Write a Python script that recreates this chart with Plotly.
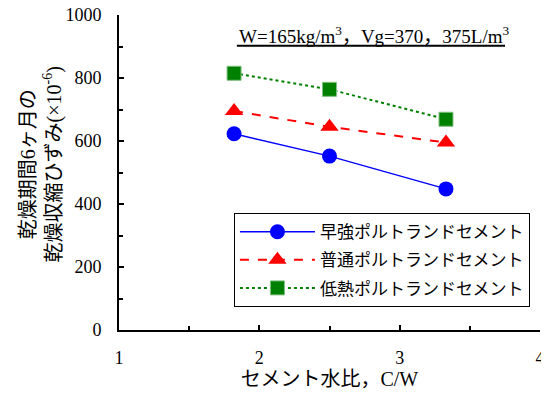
import plotly.graph_objects as go

cw = [1.82, 2.50, 3.33]
early = [623, 552, 448]
normal = [695, 645, 595]
low = [815, 764, 669]
names = ["早強ポルトランドセメント", "普通ポルトランドセメント", "低熱ポルトランドセメント"]

FONT = "Liberation Serif, Noto Sans CJK JP"

fig = go.Figure()
fig.add_trace(go.Scatter(x=cw, y=early, name=names[0], mode="lines+markers", legendgroup="a",
                         line=dict(color="#0000FF", width=1.5),
                         marker=dict(symbol="circle", size=15, color="#0000FF")))
fig.add_trace(go.Scatter(x=cw, y=normal, name=names[1], mode="lines+markers", legendgroup="b",
                         line=dict(color="#FF0000", width=2, dash="dash"),
                         marker=dict(symbol="triangle-up", size=16, color="#FF0000")))
fig.add_trace(go.Scatter(x=cw, y=low, name=names[2], mode="lines+markers", legendgroup="c",
                         line=dict(color="#008000", width=2, dash="dot"),
                         marker=dict(symbol="square", size=14, color="#008000",
                                     line=dict(color="#7fbf7f", width=1))))

fig.update_layout(
    width=541, height=384,
    margin=dict(l=111, r=9, t=7, b=62),
    paper_bgcolor="white", plot_bgcolor="white",
    font=dict(family=FONT, size=16, color="black"),
    showlegend=True,
    legend=dict(x=0.273, y=0.371, xanchor="left", yanchor="top",
                bordercolor="black", borderwidth=1, bgcolor="white",
                font=dict(family=FONT, size=17), tracegroupgap=3, itemwidth=75),
    xaxis=dict(range=[1, 4], tickvals=[1, 2, 3, 4], showgrid=False, zeroline=False,
               showline=True, linecolor="black", linewidth=2, automargin=False,
               ticks="inside", ticklen=5, tickwidth=2, tickcolor="black",
               tickfont=dict(family=FONT, size=18), ticklabeloverflow="allow",
               minor=dict(ticks="inside", ticklen=4, tickwidth=1.5, tickcolor="black", dtick=0.5),
               title=dict(text="セメント水比，C/W", font=dict(family=FONT, size=20), standoff=4),
               ticklabelstandoff=10),
    yaxis=dict(range=[0, 1000], tickvals=[0, 200, 400, 600, 800, 1000], showgrid=False, zeroline=False,
               showline=True, linecolor="black", linewidth=2, automargin=False,
               ticks="inside", ticklen=5, tickwidth=2, tickcolor="black",
               tickfont=dict(family=FONT, size=18), ticklabeloverflow="allow",
               minor=dict(ticks="inside", ticklen=4, tickwidth=1.5, tickcolor="black", dtick=100),
               ticklabelstandoff=12),
    annotations=[
        dict(x=0.280, xref="paper", y=0.937, yref="paper", xanchor="left", yanchor="middle",
             text="W=165kg/m<sup>3</sup>，Vg=370，375L/m<sup>3</sup>", showarrow=False,
             font=dict(family=FONT, size=19)),
        dict(x=-0.184, xref="paper", y=0.524, yref="paper", xanchor="center", yanchor="middle",
             textangle=-90, showarrow=False,
             text="乾燥期間6ヶ月の<br>乾燥収縮ひずみ(×10<sup>-6</sup>)",
             font=dict(family=FONT, size=20)),
    ],
    shapes=[dict(type="line", xref="paper", yref="paper", x0=0.280, x1=0.917, y0=0.902, y1=0.902,
                 line=dict(color="black", width=2))],
)

fig.write_html("out.html")
